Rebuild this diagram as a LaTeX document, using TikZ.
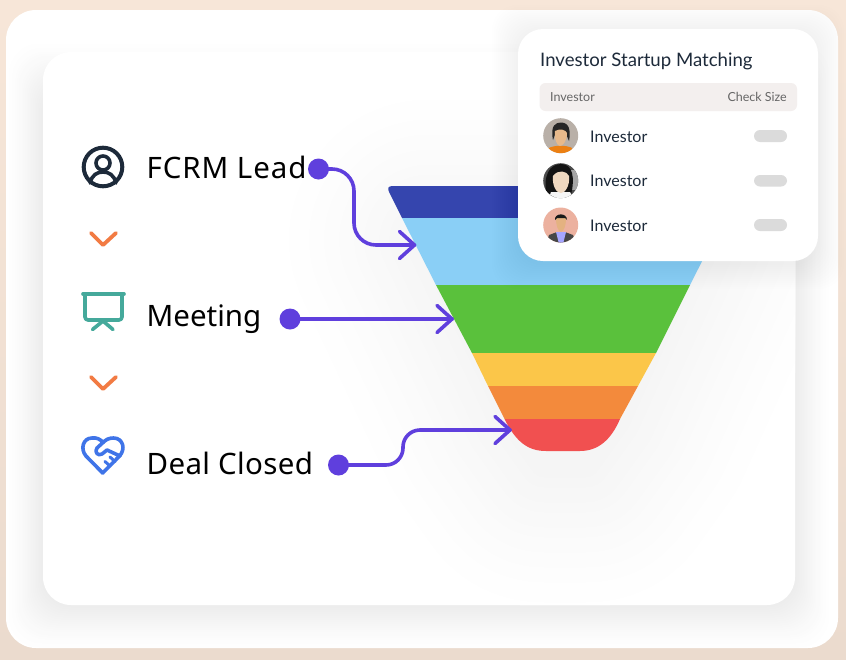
\documentclass[tikz,border=0pt]{standalone}
\usepackage{fontspec}
\setmainfont{Noto Sans}
\newfontfamily\cardfont{Lato}
\definecolor{navyc}{HTML}{3545AE}
\definecolor{skyc}{HTML}{8ACFF6}
\definecolor{greenc}{HTML}{5AC13C}
\definecolor{yellowc}{HTML}{FBC649}
\definecolor{orangec}{HTML}{F38A3C}
\definecolor{redc}{HTML}{F15050}
\definecolor{purplec}{HTML}{5F3FDD}
\definecolor{darkc}{HTML}{1D2A3A}
\definecolor{tealc}{HTML}{45A99B}
\definecolor{bluec}{HTML}{3F74E8}
\definecolor{chevc}{HTML}{F27B43}
\definecolor{shadowc}{HTML}{ECECEC}
\definecolor{halo}{HTML}{F4F4F4}
\definecolor{peachtop}{HTML}{F7E6D8}
\definecolor{peachbot}{HTML}{EBDBCE}
\definecolor{headfill}{HTML}{F3EFEE}
\tikzset{
  label text/.style={anchor=base west,inner sep=0pt,text=black,font=\fontsize{29.5}{34}\selectfont},
  row text/.style={anchor=base west,inner sep=0pt,text=darkc,font=\cardfont\fontsize{16}{18}\selectfont},
  head text/.style={inner sep=0pt,text=black!60,font=\cardfont\fontsize{12.5}{14}\selectfont},
  dot/.style={circle,fill=purplec,draw=none,minimum size=21pt,inner sep=0pt},
  conn/.style={draw=purplec,line width=3.6pt,line cap=round,line join=round},
  chev/.style={draw=chevc,line width=3.8pt,line cap=round,line join=round},
  pill/.style={fill=black!14,rounded corners=6pt}
}
\newcommand{\arrowwings}[1]{\draw[conn] ([shift={(-15,-13.5)}]#1) -- (#1) -- ([shift={(-15,13.5)}]#1);}
\begin{document}
\begin{tikzpicture}[x=1pt,y=-1pt]
\useasboundingbox (0,0) rectangle (846,659);
% page
\shade[top color=peachtop,bottom color=peachbot] (0,0) rectangle (846,659);
\fill[white,rounded corners=30pt] (6,10) rectangle (838,648);
% inner card shadow
\begin{scope}
\clip[rounded corners=30pt] (6,10) rectangle (838,648);
\foreach \d in {42,40,...,2}{
  \pgfmathsetmacro{\p}{100*(1-\d/44)^1.25}
  \fill[shadowc!\p!white,rounded corners=30pt] (43-\d*0.8,52-\d+34) rectangle (795+\d*0.8,605+\d);
}
\end{scope}
\fill[white,rounded corners=28pt] (43,52) rectangle (795,605);
% funnel shadow
\begin{scope}
\clip[rounded corners=28pt] (43,52) rectangle (795,605);
\foreach \d in {290,280,...,10}{
  \pgfmathsetmacro{\p}{100*(1-\d/300)^1.2}
  \filldraw[halo!\p!white,line width=\d pt,line join=round]
    (430,240) -- (696,240) -- (615,420) -- (585,462) -- (545,462) -- (515,420) -- cycle;
}
\end{scope}
% funnel bands
\fill[navyc] (402,218) -- (389.5,193) .. controls (387,188) and (388,186) .. (393,186) -- (739,186) -- (724,218) -- cycle;
\fill[skyc] (402,218) -- (724,218) -- (690,285) -- (436,285) -- cycle;
\fill[greenc] (436,285) -- (690,285) -- (656,353) -- (472,353) -- cycle;
\fill[yellowc] (472,353) -- (656,353) -- (638,386) -- (488,386) -- cycle;
\fill[orangec] (488,386) -- (638,386) -- (620,419) -- (504.5,419) -- cycle;
\fill[redc] (504.5,419) -- (620,419) .. controls (611,440) and (598,451) .. (580,451) -- (546,451) .. controls (528,451) and (516,442) .. cycle;
% small card shadow
\foreach \d in {26,24,...,2}{
  \fill[black,opacity=0.004,rounded corners=25pt] (518-\d,29-\d+2) rectangle (818+\d,261+\d+2);
}
\fill[white,rounded corners=25pt] (518,29) rectangle (818,261);
% small card contents
\node[anchor=base west,inner sep=0pt,text=darkc,font=\cardfont\fontsize{18.6}{22}\selectfont] (title) at (540,66.5) {Investor Startup Matching};
\fill[headfill,rounded corners=6pt] (539.5,83) rectangle (797,111);
\node[head text,anchor=base west] (hinv) at (550,101.5) {Investor};
\node[head text,anchor=base east] (hchk) at (787,101.5) {Check Size};
\node[row text] (r1) at (590,142) {Investor};
\node[row text] (r2) at (590,186.5) {Investor};
\node[row text] (r3) at (590,231) {Investor};
\fill[pill] (754,130) rectangle (787,142);
\fill[pill] (754,175) rectangle (787,186.5);
\fill[pill] (754,219) rectangle (787,231);
% avatar 1
\begin{scope}
\clip (560.7,135.7) circle (17.5);
\fill[black!12!brown!25!gray!60!white] (540,115) rectangle (580,155);
\fill[orange!70!brown] (549,148) .. controls (554,145) and (567,145) .. (572,148) -- (576,156) -- (546,156) -- cycle;
\fill[black!85] (553,140) .. controls (550,125) and (556,122.5) .. (561,122.5) .. controls (569,122.5) and (571,130) .. (569,141) -- (566,134) -- (556,132) -- cycle;
\fill[orange!30!brown!55!white] (555,131) .. controls (560,128) and (566,130) .. (567,133) .. controls (567,141) and (563,146) .. (560,146) .. controls (557,146) and (554,139) .. (555,131) -- cycle;
\end{scope}
% avatar 2
\begin{scope}
\clip (560.7,180.7) circle (17.5);
\fill[black!70] (540,160) rectangle (580,200);
\fill[gray!70] (570,170) rectangle (580,190);
\fill[black!92] (547,198) .. controls (542,175) and (550,164) .. (561,164) .. controls (573,164) and (575,178) .. (571,195) -- cycle;
\fill[white!92!gray] (551,192) -- (570,192) -- (574,200) -- (548,200) -- cycle;
\fill[orange!22!brown!30!white] (553,176) .. controls (558,169) and (567,171) .. (569,176) .. controls (570,186) and (565,193) .. (561,193) .. controls (556,193) and (552,185) .. (553,176) -- cycle;
\end{scope}
% avatar 3
\begin{scope}
\clip (560.7,225) circle (17.5);
\fill[red!35!brown!45!white] (540,205) rectangle (580,245);
\fill[black!72] (546,244) -- (549,235) -- (557,232) -- (565,232) -- (573,235) -- (576,244) -- cycle;
\fill[blue!35!white] (556,232) -- (566,232) -- (563,244) -- (559,244) -- cycle;
\fill[orange!30!brown!60!white] (556,218) .. controls (558,215) and (564,215) .. (566,218) .. controls (566,226) and (564,231) .. (561,232) .. controls (558,231) and (556,226) .. (556,218) -- cycle;
\fill[black!90] (555,220) .. controls (554,213) and (567,212) .. (567,220) -- (565,218) -- (557,218) -- cycle;
\end{scope}
% labels
\node[label text] (lead) at (146.5,178) {\addfontfeatures{LetterSpace=3}FCRM Lead};
\node[label text] (meet) at (146.5,326) {Meeting};
\node[label text] (deal) at (146.5,474) {\addfontfeatures{LetterSpace=1.2}Deal Closed};
% person icon
\draw[darkc,line width=4pt] (103,167) circle (19.3);
\draw[darkc,line width=3.6pt] (103,163) circle (7);
\draw[darkc,line width=3.6pt,line cap=round] (90,183) .. controls (92,175) and (97,172) .. (103,172) .. controls (109,172) and (114,175) .. (116,183);
% chevrons
\draw[chev] (91,233) -- (103,245) -- (116,233);
\draw[chev] (91,377) -- (103,389) -- (116,377);
% presentation icon
\draw[tealc,line width=3.6pt,line cap=round] (83,294) -- (124,294);
\draw[tealc,line width=3.6pt,line join=round,rounded corners=3pt] (85,294) -- (85,320) -- (122,320) -- (122,294);
\draw[tealc,line width=3.6pt,line cap=round] (92.5,329.5) -- (103,321) -- (113,329.5);
% handshake heart icon
\draw[bluec,line width=3.6pt,line cap=round,line join=round]
  (102.7,473) -- (86,456) .. controls (80,449) and (83,438) .. (92,438) .. controls (97,437.5) and (100,439) .. (103,442.5)
  -- (97,448) .. controls (94,452) and (98,456.5) .. (102,454) -- (107,450) -- (120,456);
\draw[bluec,line width=3.6pt,line cap=round,line join=round]
  (102.7,473) -- (119.5,456) .. controls (126,449) and (123,438) .. (113.5,438) .. controls (109,438) and (106,439.5) .. (103,442.5);
\draw[bluec,line width=3pt,line cap=round] (105,461.5) -- (110,466);
\draw[bluec,line width=3pt,line cap=round] (110,457) -- (115,461.5);
% connectors
\node[dot] (d1) at (318.5,169) {};
\node[dot] (d2) at (290,319) {};
\node[dot] (d3) at (338.5,465) {};
\coordinate (t1) at (414.5,245);
\coordinate (t2) at (452,319);
\coordinate (t3) at (510,430);
\coordinate (b1a) at (354,169);
\coordinate (b1b) at (354,245);
\coordinate (b3a) at (403,465);
\coordinate (b3b) at (403,430);
\draw[conn,rounded corners=22pt] (d1.center) -- (b1a) -- (b1b) -- (t1);
\draw[conn] (d2.center) -- (t2);
\draw[conn,rounded corners=17pt] (d3.center) -- (b3a) -- (b3b) -- (t3);
\arrowwings{t1}
\arrowwings{t2}
\arrowwings{t3}
\end{tikzpicture}
\end{document}
